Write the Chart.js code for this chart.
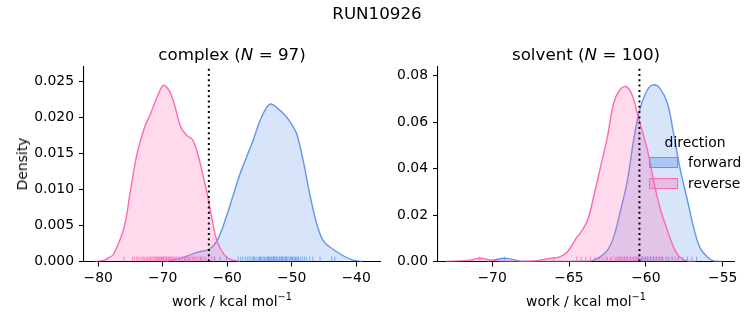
<!DOCTYPE html>
<html>
<head>
<meta charset="utf-8">
<script src="https://cdn.jsdelivr.net/npm/chart.js@4"></script>
<style>
  body { margin: 0; background: #fff; font-family: "DejaVu Sans"; }
  #fig { position: relative; width: 753px; height: 325px; overflow: hidden; }
  canvas { position: absolute; top: 0; }
  .t { position: absolute; transform: translate(-50%, -50%); white-space: nowrap; color: #000; }
  .lt { position: absolute; transform: translateY(-50%); white-space: nowrap; color: #000; font-size: 13.9px; }
  .patch { position: absolute; width: 27px; height: 9px; }
  sup { font-size: 70%; }
</style>
</head>
<body>
<div id="fig">
  <canvas id="complexChart" width="392" height="325" style="left:0"></canvas>
  <canvas id="solventChart" width="373" height="325" style="left:380px"></canvas>

  <div class="t" style="left:377px;top:13px;font-size:16.7px">RUN10926</div>
  <div class="t" style="left:232px;top:54px;font-size:16.7px">complex (<i>N</i> = 97)</div>
  <div class="t" style="left:586px;top:54px;font-size:16.7px">solvent (<i>N</i> = 100)</div>
  <div class="t" style="left:232px;top:300px;font-size:13.9px">work / kcal mol<sup>−1</sup></div>
  <div class="t" style="left:586px;top:300px;font-size:13.9px">work / kcal mol<sup>−1</sup></div>
  <div class="t" style="left:22px;top:164px;font-size:13.9px;transform:translate(-50%,-50%) rotate(-90deg)">Density</div>

  <!-- legend -->
  <div class="t" style="left:695px;top:142px;font-size:13.9px">direction</div>
  <div class="patch" style="left:649px;top:157px;background:rgba(100,149,237,0.38);border:1px solid #6495ed"></div>
  <div class="patch" style="left:649px;top:178px;background:rgba(255,105,180,0.3);border:1px solid #ff69b4"></div>
  <div class="lt" style="left:688px;top:162px">forward</div>
  <div class="lt" style="left:688px;top:183px">reverse</div>
</div>

<script>
// complex leg: KDE curves
const complexFwdX = [-69.5, -69.0, -66.7, -64.6, -62.8, -61.5, -60.1, -59.0, -58.0, -57.0, -56.0, -54.9, -53.9, -53.2, -52.3, -51.0, -50.0, -49.2, -48.2, -47.2, -46.1, -45.1, -43.6, -42.0, -40.5, -39.0];
const complexFwdY = [0, 0.0001, 0.0006, 0.0013, 0.0017, 0.0030, 0.0063, 0.0094, 0.0122, 0.0145, 0.0168, 0.0196, 0.0214, 0.0219, 0.0214, 0.0203, 0.0191, 0.0177, 0.0140, 0.0094, 0.0052, 0.0029, 0.0017, 0.0008, 0.0002, 0];
const complexRevX = [-80.5, -79.0, -78.2, -77.6, -76.0, -75.0, -74.0, -72.8, -71.9, -70.9, -69.9, -69.0, -68.2, -67.2, -66.2, -65.4, -64.7, -63.9, -63.1, -62.3, -61.6, -60.5, -59.5, -58.0];
const complexRevY = [0, 0.0002, 0.0006, 0.0010, 0.0047, 0.0098, 0.0149, 0.0187, 0.0205, 0.0228, 0.0245, 0.0238, 0.0219, 0.0187, 0.0175, 0.0170, 0.0154, 0.0126, 0.0094, 0.0057, 0.0029, 0.0010, 0.0003, 0];

// solvent leg
const solventFwdX = [-70.3, -69.7, -69.2, -68.6, -68.1, -66.0, -63.6, -63.0, -62.5, -62.1, -61.7, -61.2, -60.8, -60.4, -59.9, -59.5, -59.1, -58.6, -58.2, -57.8, -57.3, -56.9, -56.5, -56.0, -55.6, -55.0];
const solventFwdY = [0, 0.0009, 0.0014, 0.0008, 0.0001, 0, 0.0002, 0.0019, 0.0048, 0.0105, 0.0206, 0.0350, 0.0523, 0.0653, 0.0740, 0.0761, 0.0747, 0.0682, 0.0552, 0.0408, 0.0264, 0.0148, 0.0062, 0.0019, 0.0002, 0];
const solventRevX = [-73.0, -72.7, -71.4, -70.8, -70.0, -69.2, -67.3, -66.4, -65.6, -65.1, -64.5, -64.3, -63.8, -63.4, -63.0, -62.5, -62.1, -61.7, -61.3, -60.9, -60.5, -59.9, -59.5, -59.1, -58.6, -58.2, -57.8, -57.3, -56.8];
const solventRevY = [0, 0.0001, 0.0006, 0.0014, 0.0005, 0.0001, 0.0002, 0.0012, 0.0020, 0.0042, 0.0104, 0.0120, 0.0177, 0.0278, 0.0393, 0.0538, 0.0682, 0.0739, 0.0754, 0.0718, 0.0624, 0.0480, 0.0350, 0.0235, 0.0134, 0.0062, 0.0019, 0.0002, 0];

// rug samples (estimated tick positions)
const complexFwdRug = [-66.6, -64.1, -62.0, -61.1, -60.1, -58.3, -57.9, -57.6, -57.2, -56.9, -56.6, -56.3, -56.0, -55.9, -55.7, -55.5, -55.2, -55.0, -54.9, -54.8, -54.6, -54.4, -54.2, -54.0, -53.8, -53.7, -53.6, -53.4, -53.3, -53.1, -52.9, -52.8, -52.7, -52.6, -52.4, -52.3, -52.1, -51.9, -51.8, -51.6, -51.5, -51.4, -51.2, -51.0, -50.9, -50.8, -50.6, -50.4, -50.2, -50.0, -49.9, -49.8, -49.6, -49.4, -49.2, -49.0, -48.9, -48.6, -48.3, -48.0, -47.7, -47.2, -46.7, -45.6, -43.8, -43.3];
const complexRevRug = [-76.0, -74.7, -74.4, -74.0, -73.8, -73.5, -73.2, -73.0, -72.8, -72.5, -72.3, -72.1, -71.9, -71.7, -71.5, -71.3, -71.1, -70.9, -70.8, -70.6, -70.5, -70.3, -70.2, -70.1, -70.0, -69.9, -69.8, -69.6, -69.5, -69.4, -69.3, -69.1, -69.0, -68.8, -68.7, -68.5, -68.3, -68.1, -67.9, -67.6, -67.4, -67.1, -66.9, -66.6, -66.4, -66.2, -66.0, -65.8, -65.6, -65.4, -65.2, -65.0, -64.8, -64.5, -64.2, -63.9, -63.6, -63.3, -62.9, -62.4, -61.9];
const solventFwdRug = [-69.2, -61.7, -61.4, -61.2, -61.0, -60.8, -60.6, -60.5, -60.3, -60.2, -60.1, -60.0, -59.9, -59.8, -59.7, -59.6, -59.5, -59.4, -59.3, -59.2, -59.1, -59.0, -58.9, -58.7, -58.5, -58.3, -58.1, -57.9, -57.6, -57.3, -57.0, -56.7];
const solventRevRug = [-70.8, -66.0, -64.5, -64.2, -63.9, -63.6, -63.3, -63.0, -62.8, -62.6, -62.5, -62.3, -62.2, -62.0, -61.9, -61.8, -61.7, -61.6, -61.5, -61.4, -61.3, -61.2, -61.1, -61.0, -60.9, -60.8, -60.7, -60.6, -60.5, -60.4, -60.3, -60.2, -60.0, -59.9, -59.7, -59.5, -59.3, -59.1, -58.9, -58.6, -58.3, -57.9];

// vertical dotted marker
const complexMarker = -62.84;
const solventMarker = -60.42;

// tick labels
const complexXTicks = [-80, -70, -60, -50, -40];
const complexYTicks = [0, 0.005, 0.010, 0.015, 0.020, 0.025];
const solventXTicks = [-70, -65, -60, -55];
const solventYTicks = [0, 0.02, 0.04, 0.06, 0.08];

const BLUE = "#6495ed";
const PINK = "#ff69b4";

Chart.defaults.font.family = "DejaVu Sans";
Chart.defaults.font.size = 13.9;
Chart.defaults.color = "#000";

function pts(xs, ys) {
  return xs.map((x, i) => ({ x: x, y: ys[i] }));
}

function kde(xs, ys, color, fillColor, order) {
  return {
    data: pts(xs, ys),
    borderColor: color,
    backgroundColor: fillColor,
    borderWidth: 1.4,
    fill: "origin",
    pointRadius: 0,
    tension: 0.35,
    order: order,
  };
}

function rug(vals, yMax, color, order) {
  return {
    data: vals.map(v => ({ x: v, y: yMax * 0.0125 })),
    showLine: false,
    pointStyle: "line",
    rotation: 90,
    pointRadius: 2.5,
    borderColor: color,
    borderWidth: 1,
    order: order,
  };
}

function makeChart(id, o) {
  const axisLine = { display: true, color: "#000", width: 1.1 };
  const grid = { drawOnChartArea: false, drawTicks: true, tickLength: 5, color: "#000", tickWidth: 1.1 };
  return new Chart(document.getElementById(id), {
    type: "line",
    data: {
      datasets: [
        { data: [{ x: o.marker, y: 0 }, { x: o.marker, y: o.yMax }], borderColor: "#000",
          borderWidth: 2, borderDash: [2, 3.3], pointRadius: 0, fill: false, order: 0 },
        rug(o.revRug, o.yMax, "rgba(255,105,180,0.75)", 1),
        rug(o.fwdRug, o.yMax, "rgba(100,149,237,0.75)", 2),
        kde(o.revX, o.revY, PINK, "rgba(255,105,180,0.25)", 3),
        kde(o.fwdX, o.fwdY, BLUE, "rgba(100,149,237,0.25)", 4),
      ],
    },
    options: {
      responsive: false,
      animation: false,
      devicePixelRatio: 1,
      layout: { padding: { left: 0, top: 67, right: o.padRight, bottom: 0 } },
      plugins: { legend: { display: false }, tooltip: { enabled: false } },
      scales: {
        x: {
          type: "linear", min: o.xMin, max: o.xMax,
          border: axisLine, grid: grid,
          ticks: { padding: 4, maxRotation: 0, callback: v => String(v).replace("-", "\u2212") },
          afterBuildTicks: s => { s.ticks = o.xTicks.map(v => ({ value: v })); },
          afterFit: s => { s.height = 63.5; },
        },
        y: {
          min: 0, max: o.yMax,
          border: axisLine, grid: grid,
          ticks: { padding: 5, callback: v => v.toFixed(o.yDigits) },
          afterBuildTicks: s => { s.ticks = o.yTicks.map(v => ({ value: v })); },
          afterFit: s => { s.width = o.yWidth; },
        },
      },
    },
  });
}

makeChart("complexChart", {
  fwdX: complexFwdX, fwdY: complexFwdY, revX: complexRevX, revY: complexRevY,
  fwdRug: complexFwdRug, revRug: complexRevRug, marker: complexMarker,
  xTicks: complexXTicks, yTicks: complexYTicks, yDigits: 3,
  xMin: -82.2, xMax: -36.3, yMax: 0.02705, yWidth: 84, padRight: 12,
});

makeChart("solventChart", {
  fwdX: solventFwdX, fwdY: solventFwdY, revX: solventRevX, revY: solventRevY,
  fwdRug: solventFwdRug, revRug: solventRevRug, marker: solventMarker,
  xTicks: solventXTicks, yTicks: solventYTicks, yDigits: 2,
  xMin: -73.52, xMax: -54.27, yMax: 0.0838, yWidth: 58, padRight: 19,
});
</script>
</body>
</html>
